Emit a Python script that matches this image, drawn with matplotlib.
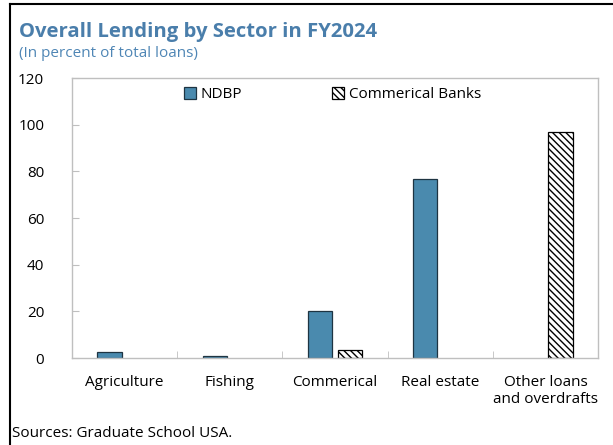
import matplotlib
matplotlib.use("Agg")
import matplotlib.pyplot as plt
import numpy as np
from matplotlib.lines import Line2D

plt.rcParams['font.family'] = ['Open Sans', 'DejaVu Sans']
plt.rcParams['hatch.linewidth'] = 1.0

# lending shares by sector, percent of total loans
sectors = ["Agriculture", "Fishing", "Commerical", "Real estate", "Other loans\nand overdrafts"]
ndbp = [2.6, 1.0, 20.0, 76.7, 0.0]
commercial_banks = [0.0, 0.0, 3.5, 0.0, 96.8]
series_names = ["NDBP", "Commerical Banks"]

blue = "#4a8aae"
title_blue = "#4a7eab"
grey = "#bfbfbf"

fig = plt.figure(figsize=(6.13, 4.45), dpi=100)
ax = fig.add_axes([0.1175, 0.1955, 0.858, 0.629])

x = np.arange(len(sectors)) + 0.5
w = 0.23
off = 0.143
# no outline for empty bars so nothing sits on the baseline
lw_a = [0.9 if v > 0 else 0 for v in ndbp]
lw_b = [0.9 if v > 0 else 0 for v in commercial_banks]
ax.bar(x - off, ndbp, w, color=blue, edgecolor="#1e3442", linewidth=lw_a,
       label=series_names[0])
ax.bar(x + off, commercial_banks, w, color="white", edgecolor="black",
       linewidth=lw_b, hatch="\\\\\\\\\\", label=series_names[1])

ax.set_xlim(0, len(sectors))
ax.set_ylim(0, 120)
ax.set_yticks(range(0, 121, 20))
ax.set_xticks(x)
ax.set_xticklabels(sectors, fontsize=11, linespacing=1.25)
ax.set_xticks(np.arange(1, len(sectors)), minor=True)
ax.tick_params(axis="x", which="major", length=0, pad=12)
ax.tick_params(axis="x", which="minor", direction="in", length=5, color=grey)
ax.tick_params(axis="y", direction="in", length=5, color=grey, labelsize=11, pad=20)
for s in ax.spines.values():
    s.set_color(grey)
    s.set_linewidth(1.0)

leg = ax.legend(loc="upper center", ncol=2, frameon=False, fontsize=11,
                bbox_to_anchor=(0.495, 1.0), handlelength=0.8, handleheight=0.8,
                handletextpad=0.3, columnspacing=5.9, borderaxespad=0.2)
for h in leg.legend_handles:
    h.set_linewidth(0.9)

fig.text(0.031, 0.917, "Overall Lending by Sector in FY2024", fontsize=14.6,
         fontweight="bold", color=title_blue)
fig.text(0.031, 0.873, "(In percent of total loans)", fontsize=11, color="#4f86b5")
fig.text(0.02, 0.018, "Sources: Graduate School USA.", fontsize=11, color="black")

# frame lines along the top and left edge
fig.add_artist(Line2D([0.016, 1.0], [0.991, 0.991], color="black", linewidth=1.5,
                      transform=fig.transFigure))
fig.add_artist(Line2D([0.016, 0.016], [0.0, 0.991], color="black", linewidth=1.5,
                      transform=fig.transFigure))

fig.savefig("out.png", dpi=100)
